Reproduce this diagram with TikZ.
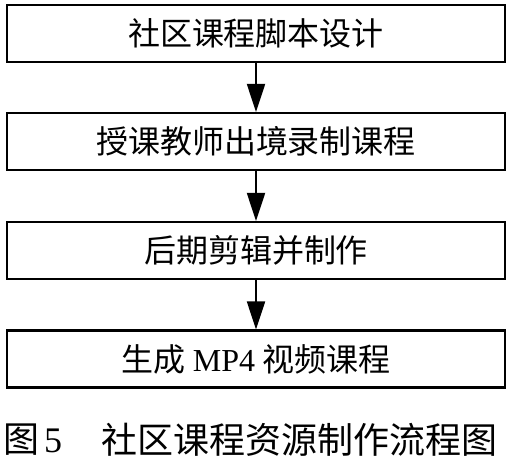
\documentclass[tikz,border=0pt]{standalone}
\usepackage{fontspec}
\setmainfont{Liberation Serif}
\newfontfamily\cjk{Noto Sans CJK SC}
\usetikzlibrary{arrows.meta}
\begin{document}
\begin{tikzpicture}[x=1pt,y=-1pt,
  stepbox/.style={draw=black,line width=2.2pt,minimum width=498pt,minimum height=57pt,inner sep=0pt,font=\fontsize{32}{32}\selectfont},
  flow/.style={line width=2pt,-{Triangle[width=18pt,length=28pt]}},
  captext/.style={inner sep=0pt,font=\fontsize{36}{36}\selectfont}]
\useasboundingbox (0,0) rectangle (512,459);
\node[stepbox] (s1) at (256,33.5) {\cjk 社区课程脚本设计};
\node[stepbox] (s2) at (256,141.5) {\cjk 授课教师出境录制课程};
\node[stepbox] (s3) at (256,250.5) {\cjk 后期剪辑并制作};
\node[stepbox] (s4) at (256,359) {{\cjk 生成}\hspace{7pt}MP4\hspace{7pt}{\cjk 视频课程}};
\draw[flow] (s1.south) -- (s2.north);
\draw[flow] (s2.south) -- (s3.north);
\draw[flow] (s3.south) -- (s4.north);
\node[captext,anchor=west] (capfig) at (3,440) {\cjk 图};
\node[captext] (capnum) at (53,441) {5};
\node[captext,anchor=west] (captitle) at (101,440) {\cjk 社区课程资源制作流程图};
\end{tikzpicture}
\end{document}
